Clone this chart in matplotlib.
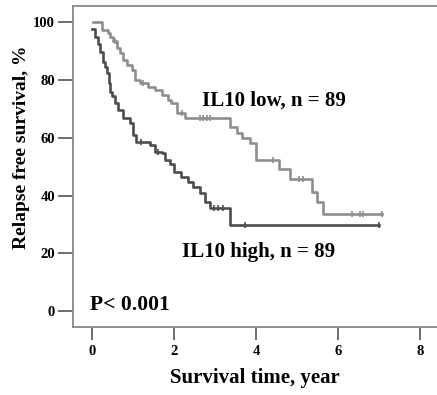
import matplotlib.pyplot as plt

# Kaplan-Meier step data (time in years, survival in %)
low_t = [0.03, 0.24, 0.40, 0.44, 0.52, 0.60, 0.68, 0.76, 0.85, 0.97, 1.05, 1.17,
         1.37, 1.54, 1.70, 1.86, 1.92, 2.07, 2.27, 3.37, 3.53, 3.65, 3.85, 3.99,
         4.55, 4.83, 5.36, 5.48, 5.64, 7.07]
low_s = [100, 97.4, 96.3, 95.1, 93.4, 91.0, 89.3, 87.0, 85.3, 83.5, 80.0, 78.9,
         77.7, 76.6, 74.9, 73.1, 72.0, 68.5, 66.8, 63.9, 61.6, 59.9, 58.1, 52.3,
         49.3, 45.8, 41.4, 37.7, 33.6, 33.6]
low_cens_t = [0.55, 1.25, 2.19, 2.64, 2.71, 2.80, 2.88, 4.42, 5.05, 5.15,
              6.33, 6.54, 6.61, 7.07]

high_t = [0.0, 0.07, 0.15, 0.20, 0.28, 0.32, 0.36, 0.42, 0.45, 0.50, 0.56, 0.64,
          0.76, 0.93, 1.00, 1.08, 1.41, 1.54, 1.70, 1.78, 1.90, 2.00, 2.16, 2.35,
          2.47, 2.63, 2.76, 2.88, 3.37, 7.00]
high_s = [97.8, 95.1, 92.5, 89.9, 86.4, 84.5, 82.4, 79.0, 76.0, 74.5, 72.0, 69.7,
          66.8, 65.0, 61.0, 58.7, 57.5, 55.2, 54.7, 52.3, 51.0, 48.3, 46.5, 44.8,
          43.1, 40.8, 37.9, 35.6, 29.8, 29.8]
high_cens_t = [1.20, 1.62, 2.98, 3.07, 3.20, 3.73, 7.00]

x_ticks = [0, 2, 4, 6, 8]
y_ticks = [0, 20, 40, 60, 80, 100]

low_col = "#8e8e8e"
high_col = "#4d4d4d"


def surv_at(ts, ss, t):
    val = ss[0]
    for ti, si in zip(ts, ss):
        if ti <= t:
            val = si
    return val


plt.rcParams["font.family"] = ["Liberation Serif", "DejaVu Serif"]
plt.rcParams["font.weight"] = "bold"

fig = plt.figure(figsize=(4.37, 3.95), dpi=100)
ax = fig.add_axes([73 / 437, 68 / 395, 364 / 437, 321 / 395])

ax.step(low_t, low_s, where="post", color=low_col, lw=1.9)
ax.step(high_t, high_s, where="post", color=high_col, lw=1.9)
ax.plot(low_cens_t, [surv_at(low_t, low_s, t) for t in low_cens_t], "|",
        color=low_col, ms=5, mew=1.2)
ax.plot(high_cens_t, [surv_at(high_t, high_s, t) for t in high_cens_t], "|",
        color=high_col, ms=5, mew=1.2)

ax.set_xlim(-0.463, 8.415)
ax.set_ylim(-5.55, 105.7)
ax.set_xticks(x_ticks)
ax.set_yticks(y_ticks)
ax.tick_params(axis="y", length=11, width=1.2, color="#555555", labelsize=10.5, pad=2)
ax.tick_params(axis="x", length=9, width=1.2, color="#555555", labelsize=10.5, pad=4)
for lab in ax.get_xticklabels() + ax.get_yticklabels():
    lab.set_fontweight("bold")

ax.spines["right"].set_visible(False)
for side in ["left", "bottom", "top"]:
    ax.spines[side].set_color("#888888")
    ax.spines[side].set_linewidth(1.3)

ax.text(2.68, 72.8, "IL10 low, n = 89", fontsize=15, fontweight="bold",
        ha="left", va="center")
ax.text(2.19, 20.3, "IL10 high, n = 89", fontsize=15, fontweight="bold",
        ha="left", va="center")
ax.text(-0.05, 2.0, "P< 0.001", fontsize=15.5, fontweight="bold",
        ha="left", va="center")

fig.text(255 / 437, 1 - 378 / 395, "Survival time, year", fontsize=15,
         fontweight="bold", ha="center", va="center")
fig.text(22 / 437, 1 - 147.5 / 395, "Relapse free survival, %", fontsize=14,
         fontweight="bold", ha="center", va="center", rotation=90)

fig.savefig("out.png", dpi=100)
